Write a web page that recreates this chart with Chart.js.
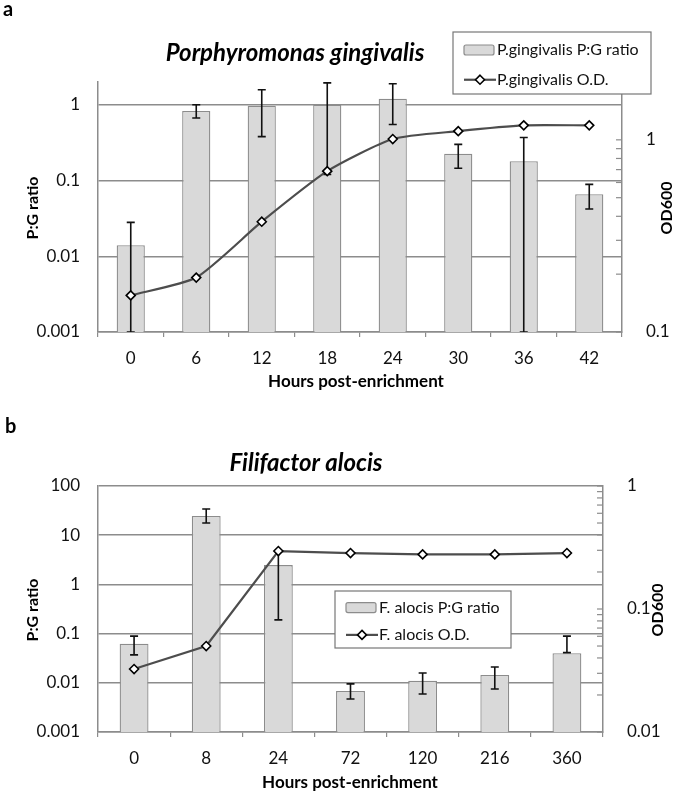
<!DOCTYPE html>
<html lang="en">
<head>
<meta charset="UTF-8" />
<title>P:G ratio and OD600 after enrichment</title>
<script src="https://cdn.jsdelivr.net/npm/chart.js"></script>
<style>
  body { margin: 0; background: #fff; }
  canvas { display: block; }
</style>
</head>
<body>
<canvas id="chartA" width="675" height="392"></canvas>
<canvas id="chartB" width="675" height="404"></canvas>
<script>
// panel a - P. gingivalis
const hoursA = ["0", "6", "12", "18", "24", "30", "36", "42"];
const ratioA = [0.014, 0.83, 0.97, 1.0, 1.2, 0.226, 0.18, 0.066];
const ratioHighA = [0.028, 1.0, 1.58, 1.95, 1.9, 0.30, 0.37, 0.089];
const ratioLowA = [0.001, 0.67, 0.38, 0.12, 0.55, 0.145, 0.001, 0.042];
const odA = [0.155, 0.192, 0.375, 0.687, 1.01, 1.11, 1.19, 1.19];
const leftTicksA = [0.001, 0.01, 0.1, 1];
const rightTicksA = [0.1, 0.2, 0.3, 0.4, 0.5, 0.6, 0.7, 0.8, 0.9, 1, 2];

// panel b - F. alocis
const hoursB = ["0", "8", "24", "72", "120", "216", "360"];
const ratioB = [0.062, 24.5, 2.47, 0.0068, 0.011, 0.0144, 0.04];
const ratioHighB = [0.089, 34, 4.75, 0.0095, 0.0158, 0.021, 0.089];
const ratioLowB = [0.037, 17.7, 0.19, 0.0047, 0.0059, 0.0075, 0.041];
const odB = [0.0325, 0.05, 0.296, 0.285, 0.278, 0.278, 0.285];
const leftTicksB = [0.001, 0.01, 0.1, 1, 10, 100];
const rightTicksB = [0.01, 0.02, 0.03, 0.04, 0.05, 0.06, 0.07, 0.08, 0.09, 0.1, 0.2, 0.3, 0.4, 0.5, 0.6, 0.7, 0.8, 0.9, 1];

const FONT = "Lato, 'Open Sans', sans-serif";
const GRID = "#8c8c8c";
const BAR = "#d9d9d9";
const LINE = "#4d4d4d";

function isDecade(v) {
  const l = Math.log10(v);
  return Math.abs(l - Math.round(l)) < 1e-9;
}

// error bars drawn right after the bar dataset, so the line sits on top
const errorBars = {
  id: "errorBars",
  afterDatasetDraw(chart, args, opts) {
    if (args.meta.type !== "bar") return;
    const ctx = chart.ctx;
    const y = chart.scales.y;
    const area = chart.chartArea;
    ctx.save();
    ctx.beginPath();
    ctx.rect(area.left, area.top - 10, area.right - area.left, area.bottom - area.top + 10);
    ctx.clip();
    ctx.strokeStyle = "#111";
    ctx.lineWidth = 1.6;
    args.meta.data.forEach((bar, i) => {
      const yh = y.getPixelForValue(opts.high[i]);
      const yl = y.getPixelForValue(opts.low[i]);
      ctx.beginPath();
      ctx.moveTo(bar.x, yh);
      ctx.lineTo(bar.x, yl);
      ctx.moveTo(bar.x - 4, yh);
      ctx.lineTo(bar.x + 4, yh);
      ctx.moveTo(bar.x - 4, yl);
      ctx.lineTo(bar.x + 4, yl);
      ctx.stroke();
    });
    ctx.restore();
  }
};

// inward minor ticks on the OD axis, titles, panel letter, boxed legend
const decor = {
  id: "decor",
  afterDraw(chart, args, o) {
    const ctx = chart.ctx;
    const y2 = chart.scales.y2;
    ctx.save();
    ctx.strokeStyle = GRID;
    ctx.lineWidth = 1.2;
    y2.ticks.forEach((t) => {
      const py = y2.getPixelForValue(t.value);
      ctx.beginPath();
      ctx.moveTo(y2.left, py);
      ctx.lineTo(y2.left - 6, py);
      ctx.stroke();
    });

    ctx.fillStyle = "#000";
    ctx.textBaseline = "middle";
    ctx.font = "bold 20px " + FONT;
    ctx.textAlign = "left";
    ctx.fillText(o.panel, o.panelX, o.panelY);
    ctx.textAlign = "center";
    ctx.font = "italic bold 24px " + FONT;
    ctx.fillText(o.title, o.titleX, o.titleY);
    ctx.font = "bold 17px " + FONT;
    ctx.fillText("Hours post-enrichment", o.xTitleX, o.xTitleY);
    ctx.font = "bold 16px " + FONT;
    ctx.save();
    ctx.translate(o.leftTitleX, o.sideTitleY);
    ctx.rotate(-Math.PI / 2);
    ctx.fillText("P:G ratio", 0, 0);
    ctx.restore();
    ctx.save();
    ctx.translate(o.rightTitleX, o.sideTitleY);
    ctx.rotate(-Math.PI / 2);
    ctx.fillText("OD600", 0, 0);
    ctx.restore();

    // legend
    const lg = o.legend;
    ctx.fillStyle = "#fff";
    ctx.fillRect(lg.x, lg.y, lg.w, lg.h);
    ctx.strokeStyle = "#777";
    ctx.lineWidth = 1.2;
    ctx.strokeRect(lg.x, lg.y, lg.w, lg.h);
    const sx = lg.x + 11;
    const row1 = lg.y + lg.h * 0.29;
    const row2 = lg.y + lg.h * 0.77;
    ctx.fillStyle = BAR;
    ctx.strokeStyle = GRID;
    ctx.beginPath();
    ctx.roundRect(sx, row1 - 5, 30, 10, 2);
    ctx.fill();
    ctx.stroke();
    ctx.strokeStyle = LINE;
    ctx.lineWidth = 2.2;
    ctx.beginPath();
    ctx.moveTo(sx, row2);
    ctx.lineTo(sx + 32, row2);
    ctx.stroke();
    ctx.fillStyle = "#fff";
    ctx.strokeStyle = "#000";
    ctx.lineWidth = 1.6;
    ctx.beginPath();
    ctx.moveTo(sx + 16, row2 - 4.5);
    ctx.lineTo(sx + 20.5, row2);
    ctx.lineTo(sx + 16, row2 + 4.5);
    ctx.lineTo(sx + 11.5, row2);
    ctx.closePath();
    ctx.fill();
    ctx.stroke();
    ctx.fillStyle = "#111";
    ctx.textAlign = "left";
    ctx.font = "16px " + FONT;
    ctx.fillText(lg.bar, sx + 33, row1);
    ctx.fillText(lg.line, sx + 33, row2);
    ctx.restore();
  }
};

function makeChart(id, cfg) {
  return new Chart(document.getElementById(id), {
    data: {
      labels: cfg.labels,
      datasets: [
        {
          type: "line",
          label: cfg.lineLabel,
          data: cfg.od,
          yAxisID: "y2",
          order: 0,
          borderColor: LINE,
          borderWidth: 2.2,
          tension: cfg.tension,
          pointStyle: "rectRot",
          pointRadius: 4.5,
          pointBackgroundColor: "#fff",
          pointBorderColor: "#000",
          pointBorderWidth: 1.6
        },
        {
          type: "bar",
          label: cfg.barLabel,
          data: cfg.ratio,
          yAxisID: "y",
          order: 1,
          backgroundColor: BAR,
          borderColor: GRID,
          borderWidth: 1.3,
          categoryPercentage: 1,
          barPercentage: cfg.barPct
        }
      ]
    },
    options: {
      responsive: false,
      animation: false,
      layout: { padding: { top: cfg.top, left: 0, right: 0, bottom: 0 } },
      plugins: {
        legend: { display: false },
        tooltip: { enabled: false },
        errorBars: { high: cfg.high, low: cfg.low },
        decor: cfg.decor
      },
      scales: {
        x: {
          offset: true,
          grid: { offset: true, drawOnChartArea: false, drawTicks: true, tickLength: 5, color: GRID, lineWidth: 1.2 },
          border: { color: GRID, width: 1.5 },
          ticks: { color: "#111", font: { family: FONT, size: 17 }, padding: 11 },
          afterFit: (s) => { s.height = cfg.xHeight; }
        },
        y: {
          type: "logarithmic",
          position: "left",
          min: cfg.yMin,
          max: cfg.yMax,
          afterBuildTicks: (s) => { s.ticks = cfg.leftTicks.map((v) => ({ value: v })); },
          afterFit: (s) => { s.width = 98; },
          grid: { color: GRID, lineWidth: 1.5, drawTicks: false },
          border: { color: GRID, width: 1.5 },
          ticks: {
            color: "#111",
            font: { family: FONT, size: 17 },
            padding: 18,
            autoSkip: false,
            callback: (v) => String(v)
          }
        },
        y2: {
          type: "logarithmic",
          position: "right",
          min: cfg.y2Min,
          max: cfg.y2Max,
          afterBuildTicks: (s) => { s.ticks = cfg.rightTicks.map((v) => ({ value: v })); },
          afterFit: (s) => { s.width = cfg.rightWidth; },
          grid: { display: false },
          border: { color: GRID, width: 1.5 },
          ticks: {
            color: "#111",
            font: { family: FONT, size: 17 },
            padding: 16,
            autoSkip: false,
            callback: (v) => (isDecade(v) ? String(v) : "")
          }
        }
      }
    },
    plugins: [errorBars, decor]
  });
}

makeChart("chartA", {
  labels: hoursA,
  ratio: ratioA,
  high: ratioHighA,
  low: ratioLowA,
  od: odA,
  barLabel: "P.gingivalis P:G ratio",
  lineLabel: "P.gingivalis O.D.",
  tension: 0.2,
  barPct: 0.43,
  top: 82,
  xHeight: 60,
  rightWidth: 53,
  yMin: 0.001,
  yMax: 2,
  y2Min: 0.1,
  y2Max: 2,
  leftTicks: leftTicksA,
  rightTicks: rightTicksA,
  decor: {
    panel: "a", panelX: 3, panelY: 10,
    title: "Porphyromonas gingivalis", titleX: 295, titleY: 53,
    xTitleX: 356, xTitleY: 382,
    leftTitleX: 33, rightTitleX: 667, sideTitleY: 208,
    legend: { x: 453, y: 32, w: 198, h: 62, bar: "P.gingivalis P:G ratio", line: "P.gingivalis O.D." }
  }
});

makeChart("chartB", {
  labels: hoursB,
  ratio: ratioB,
  high: ratioHighB,
  low: ratioLowB,
  od: odB,
  barLabel: "F. alocis P:G ratio",
  lineLabel: "F. alocis O.D.",
  tension: 0,
  barPct: 0.4,
  top: 94,
  xHeight: 64,
  rightWidth: 72,
  yMin: 0.001,
  yMax: 100,
  y2Min: 0.01,
  y2Max: 1,
  leftTicks: leftTicksB,
  rightTicks: rightTicksB,
  decor: {
    panel: "b", panelX: 5, panelY: 35,
    title: "Filifactor alocis", titleX: 306, titleY: 71,
    xTitleX: 350, xTitleY: 391,
    leftTitleX: 33, rightTitleX: 658, sideTitleY: 218,
    legend: { x: 335, y: 199, w: 176, h: 57, bar: "F. alocis P:G ratio", line: "F. alocis O.D." }
  }
});
</script>
</body>
</html>
